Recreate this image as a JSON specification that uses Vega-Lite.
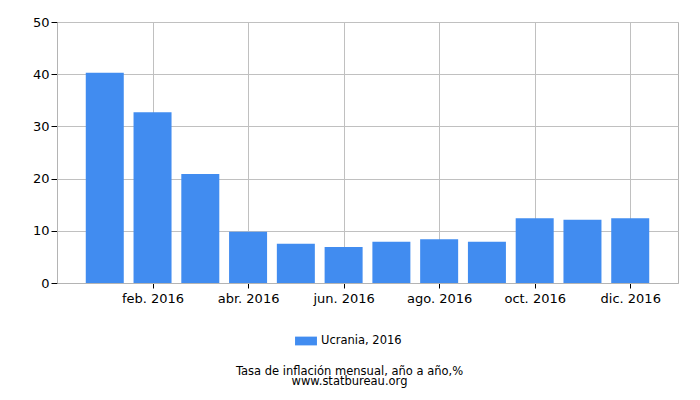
{
  "$schema": "https://vega.github.io/schema/vega-lite/v6.json",
  "width": 621,
  "height": 261,
  "autosize": {"type": "none"},
  "padding": {"left": 57, "top": 22, "right": 22, "bottom": 117},
  "background": "white",
  "config": {
    "font": "DejaVu Sans",
    "view": {"stroke": "#b4b4b4", "strokeWidth": 1},
    "axis": {
      "domainColor": "#b4b4b4",
      "gridColor": "#c0c0c0",
      "gridOpacity": 1,
      "tickColor": "#000000",
      "labelColor": "#000000",
      "labelFont": "DejaVu Sans",
      "labelFontSize": 13,
      "title": null
    }
  },
  "data": {
    "values": [
      {"mes": 1, "valor": 40.3},
      {"mes": 2, "valor": 32.7},
      {"mes": 3, "valor": 20.9},
      {"mes": 4, "valor": 9.8},
      {"mes": 5, "valor": 7.5},
      {"mes": 6, "valor": 6.9},
      {"mes": 7, "valor": 7.9},
      {"mes": 8, "valor": 8.4},
      {"mes": 9, "valor": 7.9},
      {"mes": 10, "valor": 12.4},
      {"mes": 11, "valor": 12.1},
      {"mes": 12, "valor": 12.4}
    ]
  },
  "title": {
    "text": ["Tasa de inflación mensual, año a año,%", "www.statbureau.org"],
    "orient": "bottom",
    "anchor": "middle",
    "frame": "group",
    "dx": -18,
    "offset": 19,
    "font": "DejaVu Sans",
    "fontSize": 11.5,
    "fontWeight": "normal",
    "color": "#000000",
    "lineHeight": 10
  },
  "mark": {"type": "bar", "width": 38, "color": "#418CF0"},
  "encoding": {
    "x": {
      "field": "mes",
      "type": "quantitative",
      "scale": {"domain": [0, 13], "nice": false, "zero": false, "padding": 0},
      "axis": {
        "values": [2, 4, 6, 8, 10, 12],
        "labelExpr": "['', 'ene.', 'feb.', 'mar.', 'abr.', 'may.', 'jun.', 'jul.', 'ago.', 'sep.', 'oct.', 'nov.', 'dic.'][datum.value] + ' 2016'",
        "tickSize": 5,
        "labelPadding": 4,
        "grid": true
      }
    },
    "y": {
      "field": "valor",
      "type": "quantitative",
      "scale": {"domain": [0, 50], "nice": false},
      "axis": {
        "values": [0, 10, 20, 30, 40, 50],
        "tickSize": 6,
        "labelPadding": 2,
        "grid": true
      }
    },
    "fill": {
      "datum": "Ucrania, 2016",
      "type": "nominal",
      "scale": {"range": ["#418CF0"]},
      "legend": {
        "orient": "none",
        "legendX": 238,
        "legendY": 308,
        "title": null,
        "symbolType": "M-1,-0.4H1V0.4H-1Z",
        "symbolSize": 480,
        "symbolStrokeWidth": 0,
        "labelFont": "DejaVu Sans",
        "labelFontSize": 11.5,
        "labelColor": "#000000",
        "labelOffset": 4
      }
    }
  }
}
